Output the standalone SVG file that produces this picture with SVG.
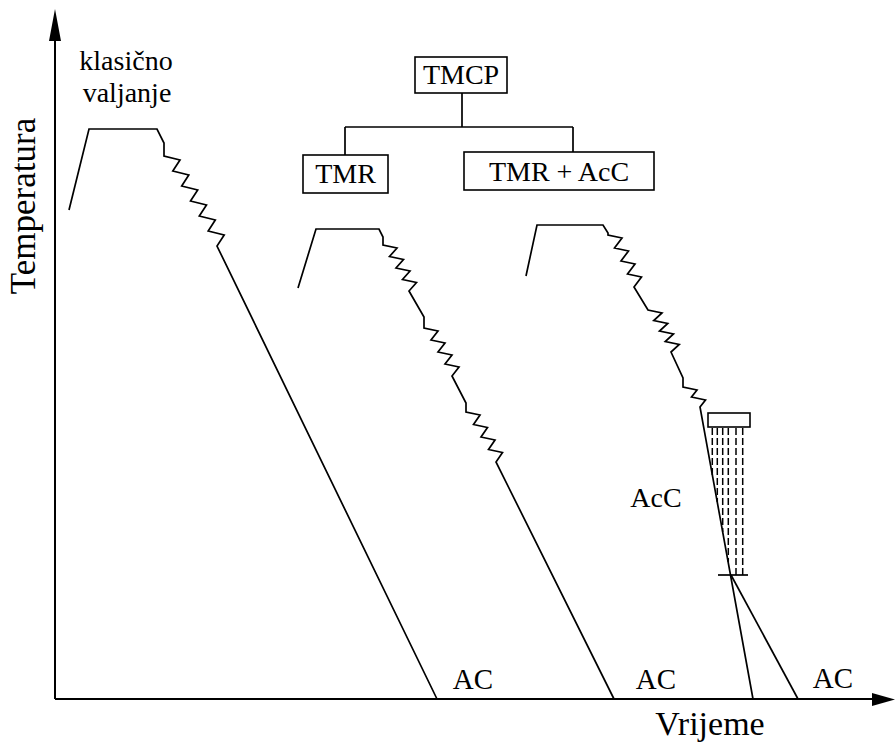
<svg xmlns="http://www.w3.org/2000/svg" width="895" height="744" viewBox="0 0 895 744">
<style>
.t{font-family:"Liberation Serif","Times New Roman",serif;fill:#000}
.ln{fill:none;stroke:#000;stroke-width:1.7;stroke-linejoin:miter}
.ax{fill:none;stroke:#000;stroke-width:2}
.bx{fill:#fff;stroke:#000;stroke-width:1.6}
.ds{fill:none;stroke:#000;stroke-width:1.5;stroke-dasharray:7 3}
</style>
<rect width="895" height="744" fill="#fff"/>
<g id="axes">
<line class="ax" x1="55" y1="699" x2="55" y2="38"/>
<polygon points="55,9 49,41 61,41" fill="#000"/>
<line class="ax" x1="55" y1="699" x2="875" y2="699"/>
<polygon points="872,693 872,706 895,699.5" fill="#000"/>
<text class="t" font-size="35" text-anchor="middle" transform="translate(35,206) rotate(-90)">Temperatura</text>
<text class="t" font-size="34" x="710" y="735" text-anchor="middle">Vrijeme</text>
</g>
<g id="curve-classic">
<path class="ln" d="M69,210 L89,129 L157,129 L164,143 L164,156 L180,160 L172.8,171 L188.8,175 L181.7,186 L197.7,190 L190.5,201 L206.5,205 L199.3,216 L215.3,220 L208.2,231 L224.2,235 L217,246 L437,699"/>
<text class="t" font-size="28" x="126" y="70" text-anchor="middle">klasično</text>
<text class="t" font-size="28" x="127" y="102" text-anchor="middle">valjanje</text>
<text class="t" font-size="29" x="473" y="689" text-anchor="middle">AC</text>
</g>
<g id="curve-tmr">
<path class="ln" d="M298,288 L316,229 L379,229 L383,237 L383,245 L397,248 L389.5,256.5 L403.5,259.5 L396,268 L410,271 L402.5,279.5 L416.5,282.5 L409,291 L424,317 L424,328 L438,331 L431,340 L445,343 L438,352 L452,355 L445,364 L459,367 L452,376 L466,403 L466,412 L480,415 L473.5,424.5 L487.5,427.5 L481,437 L495,440 L488.5,449.5 L502.5,452.5 L496,462 L614,699"/>
<text class="t" font-size="29" x="656" y="689" text-anchor="middle">AC</text>
</g>
<g id="curve-tmr-acc">
<path class="ln" d="M526,276 L537,225 L603,225 L608,233 L608,235 L622,238 L614.5,248 L628.5,251 L621,261 L635,264 L627.5,274 L641.5,277 L634,287 L648,310 L662,313 L653.75,320.5 L667.75,323.5 L659.5,331 L673.5,334 L665.25,341.5 L679.25,344.5 L671,352 L683,378 L683,387 L697,390 L691.5,397 L705.5,400 L700,407 L753,699"/>
<path class="ln" d="M731,575 L798,699"/>
<rect class="bx" x="708" y="413" width="42" height="14"/>
<line class="ds" x1="712.3" y1="428" x2="712.3" y2="475"/>
<line class="ds" x1="717.3" y1="428" x2="717.3" y2="502"/>
<line class="ds" x1="722.7" y1="428" x2="722.7" y2="532"/>
<line class="ds" x1="728.3" y1="428" x2="728.3" y2="562"/>
<line class="ds" x1="736" y1="428" x2="736" y2="575"/>
<line class="ds" x1="742.7" y1="428" x2="742.7" y2="575"/>
<line class="ln" x1="718" y1="575" x2="748" y2="575"/>
<text class="t" font-size="28" x="656" y="507" text-anchor="middle">AcC</text>
<text class="t" font-size="29" x="833" y="688" text-anchor="middle">AC</text>
</g>
<g id="connectors">
<path class="ln" d="M462,93 L462,127 M345,127 L573,127 M345,127 L345,155 M573,127 L573,152"/>
</g>
<g id="node-tmcp">
<rect class="bx" x="415" y="57" width="92" height="36"/>
<text class="t" font-size="28" x="461" y="84" text-anchor="middle">TMCP</text>
</g>
<g id="node-tmr">
<rect class="bx" x="303" y="155" width="85" height="38"/>
<text class="t" font-size="28" x="345.5" y="183" text-anchor="middle">TMR</text>
</g>
<g id="node-tmr-acc">
<rect class="bx" x="464" y="152" width="190" height="38"/>
<text class="t" font-size="28" x="559" y="181" text-anchor="middle">TMR + AcC</text>
</g>
</svg>
